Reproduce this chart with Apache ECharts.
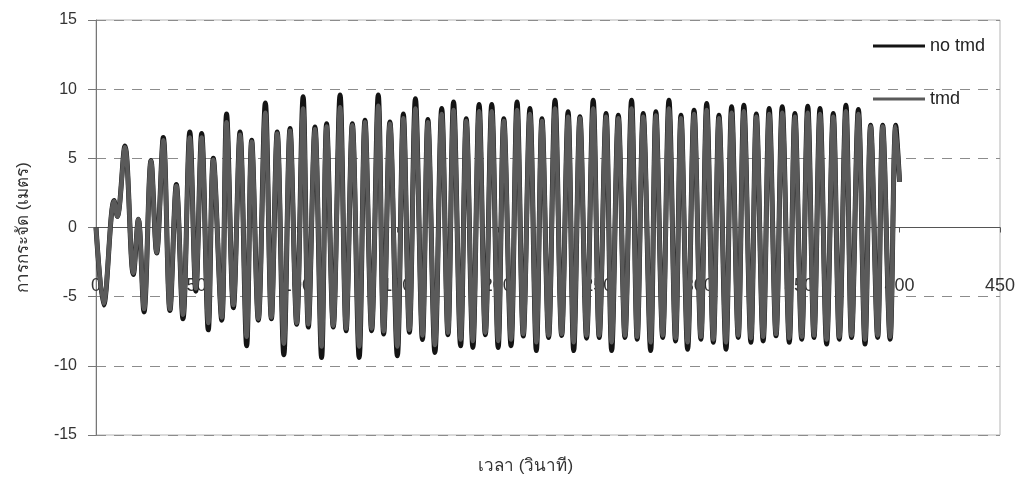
<!DOCTYPE html>
<html>
<head>
<meta charset="utf-8">
<script src="https://cdn.jsdelivr.net/npm/echarts@6/dist/echarts.min.js"></script>
<style>
  html, body { margin: 0; padding: 0; background: #fff; }
  #chart { width: 1022px; height: 493px; }
</style>
</head>
<body>
<div id="chart"></div>
<script>
// เวลา (วินาที) ของจุดยอด/จุดต่ำสุดแต่ละช่วงที่อ่านจากกราฟ
var extremaTime = [
  0, 3.8, 9, 10.6, 14.4, 18.6, 21.1, 23.9, 27.4, 30.2,
  33.5, 36.8, 40.0, 43.3, 46.7, 49.7, 52.6, 55.9, 58.4, 62.6,
  65.0, 68.4, 71.7, 75.0, 77.5, 80.8, 84.3, 87.3, 90.2, 93.5,
  96.6, 99.9, 103.1, 105.7, 109.0, 112.3, 114.8, 118.1, 121.5, 124.5,
  127.6, 131.0, 133.9, 137.2, 140.5, 143.2, 146.3, 150.0, 153.0, 156.0,
  159.0, 162.5, 165.2, 168.7, 172.1, 175.2, 178.0, 181.5, 184.3, 187.6,
  190.7, 193.8, 197.0, 200.2, 203.0, 206.6, 209.6, 212.7, 216.0, 219.2,
  222.0, 225.3, 228.5, 231.8, 235.0, 237.8, 240.9, 244.2, 247.5, 250.5,
  253.9, 256.7, 260.0, 263.3, 266.6, 269.4, 272.4, 276.1, 278.7, 282.1,
  285.2, 288.5, 291.2, 294.5, 297.7, 301.1, 304.0, 307.3, 310.1, 313.6,
  316.4, 319.7, 322.5, 326.0, 328.7, 332.1, 335.1, 338.5, 341.6, 345.1,
  347.9, 351.3, 354.3, 357.4, 360.4, 363.7, 367.0, 370.0, 373.3, 376.1,
  379.5, 382.8, 385.6, 389.1, 391.6, 395.3, 398.1, 400
]
// การกระจัด (เมตร) กรณีไม่มี tmd
var noTmdDisp = [
  0, -5.6, 1.95, 0.8, 5.9, -3.4, 0.6, -6.1, 4.85, -1.85,
  6.5, -6.0, 3.1, -6.6, 6.9, -4.6, 6.8, -7.4, 5.0, -6.7,
  8.2, -5.8, 6.9, -8.55, 6.3, -6.7, 9.0, -6.6, 6.9, -9.2,
  7.15, -7.0, 9.45, -7.2, 7.27, -9.4, 7.5, -7.2, 9.57, -7.46,
  7.5, -9.4, 7.75, -7.46, 9.57, -7.7, 7.63, -9.28, 8.2, -7.58,
  9.3, -8.1, 7.8, -9.03, 8.6, -7.75, 9.08, -8.55, 7.87, -8.67,
  8.9, -7.75, 8.9, -8.67, 7.87, -8.55, 9.08, -7.85, 8.6, -8.9,
  7.87, -7.95, 9.2, -7.8, 8.36, -8.9, 8.0, -8.0, 9.2, -7.95,
  8.24, -8.9, 8.12, -7.95, 9.2, -8.07, 8.24, -8.9, 8.36, -7.95,
  9.2, -8.2, 8.12, -8.8, 8.48, -8.07, 8.96, -8.3, 8.12, -8.8,
  8.72, -7.95, 8.84, -8.3, 8.2, -8.2, 8.6, -7.83, 8.72, -8.3,
  8.24, -8.07, 8.77, -7.95, 8.6, -8.43, 8.24, -8.07, 8.84, -7.95,
  8.53, -8.43, 7.4, -7.95, 7.4, -8.07, 7.4, 3.3
]
// การกระจัด (เมตร) กรณีมี tmd
var tmdDisp = [
  0, -5.5, 1.9, 0.8, 5.8, -3.3, 0.6, -5.9, 4.8, -1.8,
  6.3, -5.9, 3.0, -6.3, 6.5, -4.4, 6.5, -6.9, 4.9, -6.5,
  7.6, -5.6, 6.7, -7.9, 6.2, -6.6, 8.3, -6.5, 6.8, -8.4,
  7.0, -6.9, 8.6, -7.0, 7.1, -8.6, 7.3, -7.1, 8.7, -7.3,
  7.4, -8.6, 7.6, -7.3, 8.8, -7.5, 7.5, -8.6, 7.9, -7.4,
  8.6, -7.8, 7.6, -8.5, 8.2, -7.6, 8.5, -8.1, 7.7, -8.2,
  8.4, -7.6, 8.4, -8.2, 7.7, -8.1, 8.5, -7.7, 8.2, -8.3,
  7.7, -7.8, 8.6, -7.7, 8.0, -8.3, 7.9, -7.8, 8.6, -7.8,
  8.0, -8.3, 7.9, -7.8, 8.6, -7.9, 8.0, -8.3, 8.1, -7.8,
  8.6, -8.0, 7.9, -8.3, 8.2, -7.9, 8.5, -8.1, 7.9, -8.3,
  8.3, -7.8, 8.4, -8.0, 8.0, -7.9, 8.2, -7.7, 8.3, -8.0,
  8.0, -7.9, 8.3, -7.8, 8.2, -8.1, 8.0, -7.9, 8.4, -7.8,
  8.2, -8.1, 7.3, -7.8, 7.3, -7.9, 7.3, 3.3
]
var xTicks = { min: 0, max: 450, interval: 50 }
var yTicks = { min: -15, max: 15, interval: 5 }

function pairs(xs, ys) {
  return xs.map(function(x, i) { return [x, ys[i]] })
}

var chart = echarts.init(document.getElementById('chart'))
var fontFamily = '"Liberation Sans", Arial, "Noto Sans", sans-serif'

chart.setOption({
  backgroundColor: '#ffffff',
  animation: false,
  textStyle: { fontFamily: fontFamily },
  title: {
    text: 'เวลา (วินาที)',
    left: 478,
    top: 458,
    padding: 0,
    textStyle: { fontSize: 17, fontWeight: 'normal', color: '#333' }
  },
  legend: {
    orient: 'vertical',
    left: 873,
    top: 37,
    padding: 0,
    icon: 'rect',
    itemWidth: 52,
    itemHeight: 3,
    itemGap: 35,
    data: ['no tmd', 'tmd'],
    textStyle: { fontSize: 18, color: '#222' }
  },
  grid: {
    left: 96,
    right: 22,
    top: 20,
    bottom: 58,
    outerBoundsMode: 'none',
    show: true,
    borderColor: '#b5b5b5',
    borderWidth: 1
  },
  xAxis: {
    type: 'value',
    min: xTicks.min,
    max: xTicks.max,
    interval: xTicks.interval,
    position: 'bottom',
    offset: -207.5, // แกน x วางที่ระดับ 0 ตรงกลางกราฟ
    axisLine: { onZero: false, lineStyle: { color: '#555', width: 1 } },
    axisTick: { show: true, length: 5, lineStyle: { color: '#555' } },
    axisLabel: { margin: 50, fontSize: 18, color: '#333' },
    splitLine: { show: false }
  },
  yAxis: {
    type: 'value',
    min: yTicks.min,
    max: yTicks.max,
    interval: yTicks.interval,
    name: 'การกระจัด (เมตร)',
    nameLocation: 'middle',
    nameGap: 64,
    nameTextStyle: { fontSize: 17, color: '#333' },
    axisLine: { show: true, onZero: false, lineStyle: { color: '#777' } },
    axisTick: { show: true, length: 8, lineStyle: { color: '#777' } },
    axisLabel: { margin: 19, fontSize: 16, color: '#333' },
    splitLine: {
      show: true,
      lineStyle: { color: '#8c8c8c', type: [10, 8], width: 1 }
    }
  },
  series: [{
    name: 'no tmd',
    type: 'line',
    smooth: 0.35,
    showSymbol: false,
    color: '#141414',
    lineStyle: { color: '#141414', width: 5 },
    data: pairs(extremaTime, noTmdDisp)
  }, {
    name: 'tmd',
    type: 'line',
    smooth: 0.35,
    showSymbol: false,
    color: '#5a5a5a',
    lineStyle: { color: '#5a5a5a', width: 4.5 },
    data: pairs(extremaTime, tmdDisp)
  }]
})
</script>
</body>
</html>
